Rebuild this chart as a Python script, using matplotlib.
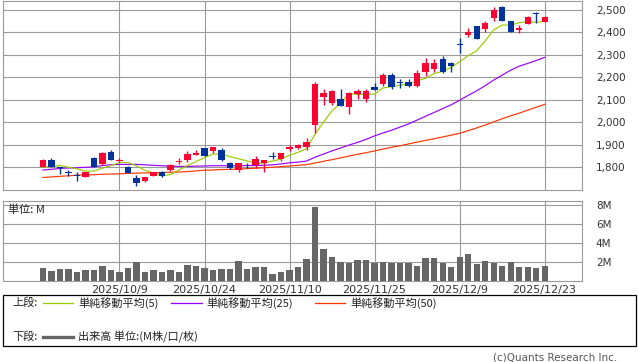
import matplotlib
matplotlib.use('Agg')
import matplotlib.pyplot as plt
from matplotlib.lines import Line2D
from matplotlib.patches import Rectangle
import pandas as pd

# ---------------- data ----------------
dates = ['2025-09-26', '2025-09-29', '2025-09-30', '2025-10-01', '2025-10-02', '2025-10-03',
         '2025-10-06', '2025-10-07', '2025-10-08', '2025-10-09', '2025-10-10', '2025-10-14',
         '2025-10-15', '2025-10-16', '2025-10-17', '2025-10-20', '2025-10-21', '2025-10-22',
         '2025-10-23', '2025-10-24', '2025-10-27', '2025-10-28', '2025-10-29', '2025-10-30',
         '2025-10-31', '2025-11-04', '2025-11-05', '2025-11-06', '2025-11-07', '2025-11-10',
         '2025-11-11', '2025-11-12', '2025-11-13', '2025-11-14', '2025-11-17', '2025-11-18',
         '2025-11-19', '2025-11-20', '2025-11-21', '2025-11-25', '2025-11-26', '2025-11-27',
         '2025-11-28', '2025-12-01', '2025-12-02', '2025-12-03', '2025-12-04', '2025-12-05',
         '2025-12-08', '2025-12-09', '2025-12-10', '2025-12-11', '2025-12-12', '2025-12-15',
         '2025-12-16', '2025-12-17', '2025-12-18', '2025-12-19', '2025-12-22', '2025-12-23']

opens = [1800, 1832, 1802, 1777, 1764, 1758, 1841, 1815, 1868, 1830,
         1800, 1752, 1740, 1763, 1779, 1790, 1822, 1831, 1856, 1886,
         1873, 1877, 1821, 1789, 1807, 1810, 1818, 1848, 1836, 1883,
         1887, 1889, 1990, 2114, 2087, 2104, 2070, 2126, 2105, 2157,
         2172, 2210, 2178, 2178, 2162, 2225, 2236, 2280, 2264, 2346,
         2390, 2429, 2417, 2466, 2515, 2451, 2411, 2439, 2486, 2448]
highs = [1837, 1841, 1803, 1788, 1778, 1779, 1845, 1867, 1877, 1841,
         1804, 1766, 1757, 1781, 1783, 1814, 1840, 1873, 1877, 1888,
         1889, 1886, 1825, 1821, 1820, 1850, 1833, 1867, 1864, 1901,
         1904, 1929, 2181, 2147, 2142, 2148, 2135, 2147, 2149, 2174,
         2220, 2220, 2192, 2192, 2233, 2288, 2282, 2295, 2270, 2374,
         2418, 2430, 2452, 2515, 2518, 2452, 2432, 2475, 2491, 2475]
lows = [1800, 1802, 1769, 1763, 1740, 1757, 1801, 1810, 1832, 1822,
        1776, 1718, 1733, 1763, 1755, 1783, 1816, 1825, 1855, 1852,
        1865, 1827, 1792, 1780, 1795, 1795, 1780, 1836, 1830, 1871,
        1882, 1877, 1951, 2079, 2079, 2072, 2039, 2104, 2092, 2142,
        2162, 2150, 2152, 2156, 2157, 2206, 2226, 2221, 2225, 2307,
        2381, 2369, 2401, 2451, 2451, 2400, 2399, 2436, 2440, 2447]
closes = [1832, 1803, 1795, 1776, 1763, 1778, 1803, 1862, 1832, 1833,
          1776, 1731, 1757, 1779, 1763, 1810, 1830, 1859, 1865, 1852,
          1889, 1832, 1798, 1819, 1805, 1836, 1833, 1847, 1862, 1892,
          1899, 1914, 2171, 2131, 2140, 2074, 2131, 2140, 2140, 2144,
          2210, 2158, 2175, 2162, 2221, 2263, 2264, 2223, 2252, 2344,
          2401, 2370, 2441, 2500, 2452, 2401, 2420, 2470, 2484, 2470]
prior_closes = [1778, 1780, 1816, 1794]

volumes_m = [1.37, 1.05, 1.26, 1.26, 0.88, 1.16, 1.16, 1.58, 1.16, 0.95,
             1.37, 2.00, 0.95, 1.16, 0.95, 1.16, 0.88, 1.68, 1.58, 1.37,
             1.16, 1.26, 1.26, 2.10, 1.26, 1.47, 1.47, 0.74, 0.95, 1.16,
             1.47, 2.30, 7.80, 3.37, 2.53, 2.00, 1.90, 2.20, 2.20, 1.90,
             2.00, 1.90, 1.90, 1.90, 1.58, 2.42, 2.42, 1.90, 1.47, 2.53,
             2.84, 1.79, 2.10, 1.90, 1.58, 2.00, 1.47, 1.47, 1.37, 1.58]

ma25 = [1788, 1791, 1795, 1797, 1798, 1800, 1802, 1808, 1811, 1813,
        1813, 1813, 1811, 1809, 1807, 1805, 1804, 1804, 1805, 1806,
        1807, 1807, 1807, 1807, 1808, 1808, 1809, 1811, 1815, 1820,
        1823, 1828, 1845, 1859, 1873, 1886, 1899, 1911, 1924, 1940,
        1953, 1965, 1979, 1993, 2010, 2027, 2044, 2061, 2078, 2098,
        2120, 2140, 2163, 2188, 2210, 2232, 2250, 2262, 2275, 2289]
ma50 = [1755, 1757, 1760, 1762, 1765, 1766, 1767, 1769, 1770, 1771,
        1773, 1774, 1775, 1776, 1777, 1778, 1779, 1781, 1784, 1787,
        1788, 1790, 1791, 1792, 1794, 1796, 1798, 1800, 1803, 1806,
        1809, 1812, 1819, 1827, 1834, 1842, 1850, 1858, 1865, 1873,
        1881, 1889, 1896, 1904, 1912, 1920, 1927, 1935, 1943, 1951,
        1963, 1975, 1988, 2002, 2016, 2029, 2041, 2054, 2067, 2080]

tick_dates = ['2025-10-09', '2025-10-24', '2025-11-10', '2025-11-25', '2025-12-09', '2025-12-23']
price_ticks = [1800, 1900, 2000, 2100, 2200, 2300, 2400, 2500]
vol_ticks = [2, 4, 6, 8]

legend_labels = ['単純移動平均(5)', '単純移動平均(25)', '単純移動平均(50)']
volume_label = '出来高 単位:(M株/口/枚)'

# ---------------- style ----------------
UP = '#ff0033'
DOWN = '#003399'
C5, C25, C50 = '#99cc00', '#9900ff', '#ff3300'
VOLC = '#666666'
GRID = '#9a9a9a'
JP = ['Noto Sans CJK JP', 'DejaVu Sans']
plt.rcParams['font.family'] = ['DejaVu Sans', 'Noto Sans CJK JP']

W, H = 638, 362
fig = plt.figure(figsize=(W / 100, H / 100), dpi=100)


def box(l, t, r, b):
    return [l / W, 1 - b / H, (r - l) / W, (b - t) / H]


def fx(x):
    return x / W


def fy(y):
    return 1 - y / H


x = list(range(len(dates)))
tick_pos = [dates.index(d) for d in tick_dates]
tick_lab = ['{}/{}/{}'.format(d[:4], int(d[5:7]), int(d[8:10])) for d in tick_dates]

# ---------------- price panel ----------------
ax = fig.add_axes(box(3, 1, 582, 190))
ax.set_xlim(-4.7, 63.4)
ax.set_ylim(1699, 2540)

ma5 = pd.Series(prior_closes + closes).rolling(5).mean().iloc[len(prior_closes):].tolist()
ax.plot(x, ma50, color=C50, lw=0.85, zorder=2)
ax.plot(x, ma25, color=C25, lw=0.85, zorder=2)
ax.plot(x, ma5, color=C5, lw=0.85, zorder=2)

for i in x:
    o, h, l, c = opens[i], highs[i], lows[i], closes[i]
    col = UP if c >= o else DOWN
    ax.vlines(i, l, h, color=col, lw=1.0, zorder=3)
    bot, hgt = min(o, c), abs(c - o)
    if hgt < 4:
        mid = (o + c) / 2
        bot, hgt = mid - 2, 4
    ax.bar(i, hgt, bottom=bot, width=0.72, color=col, lw=0, zorder=4)

ax.set_yticks(price_ticks)
ax.set_yticklabels(['{:,}'.format(v) for v in price_ticks])
ax.set_xticks(tick_pos)
ax.yaxis.tick_right()
ax.tick_params(axis='y', length=0, pad=10, labelsize=7.5, colors='#333333')
ax.tick_params(axis='x', length=0, labelbottom=False)
ax.grid(True, color=GRID, lw=0.8, zorder=0)
ax.set_axisbelow(True)
for s in ax.spines.values():
    s.set_color(GRID)
    s.set_linewidth(0.8)

# ---------------- volume panel ----------------
axv = fig.add_axes(box(3, 201, 582, 280.5))
axv.set_xlim(-4.7, 63.4)
axv.set_ylim(0, 8.43)
axv.bar(x, volumes_m, width=0.72, color=VOLC, lw=0, zorder=3)
axv.set_yticks(vol_ticks)
axv.set_yticklabels(['{}M'.format(v) for v in vol_ticks])
axv.set_xticks(tick_pos)
axv.set_xticklabels(tick_lab)
axv.yaxis.tick_right()
axv.tick_params(axis='y', length=0, pad=10, labelsize=7.5, colors='#333333')
axv.tick_params(axis='x', length=0, pad=3, labelsize=8, colors='#333333')
axv.grid(True, color=GRID, lw=0.8, zorder=0)
axv.set_axisbelow(True)
for s in axv.spines.values():
    s.set_color(GRID)
    s.set_linewidth(0.8)
axv.text(fx(8), fy(210), '単位: M', transform=fig.transFigure, fontsize=8,
         family=JP, ha='left', va='center', color='#222222')

# ---------------- legend box ----------------
fig.patches.append(Rectangle((fx(3), fy(346)), (633) / W, (51) / H, transform=fig.transFigure,
                             fill=False, edgecolor='black', lw=0.9))
row1, row2 = 303, 337
fig.text(fx(12), fy(row1), '上段:', fontsize=8, family=JP, ha='left', va='center', color='#222222')
fig.text(fx(12), fy(row2), '下段:', fontsize=8, family=JP, ha='left', va='center', color='#222222')
for (x0, x1, tx), col, lab in zip([(43, 73, 78), (171, 202, 206), (315, 345, 350)],
                                  [C5, C25, C50], legend_labels):
    fig.lines.append(Line2D([fx(x0), fx(x1)], [fy(row1), fy(row1)], transform=fig.transFigure,
                            color=col, lw=0.9))
    fig.text(fx(tx), fy(row1), lab, fontsize=8, family=JP, ha='left', va='center', color='#222222')
fig.lines.append(Line2D([fx(43), fx(73)], [fy(row2), fy(row2)], transform=fig.transFigure,
                        color=VOLC, lw=2.4))
fig.text(fx(78), fy(row2), volume_label, fontsize=8, family=JP, ha='left', va='center', color='#222222')

fig.text(fx(617), fy(357), '(c)Quants Research Inc.', fontsize=7.5, ha='right', va='center',
         color='#555555')

fig.savefig('out.png', dpi=100)
